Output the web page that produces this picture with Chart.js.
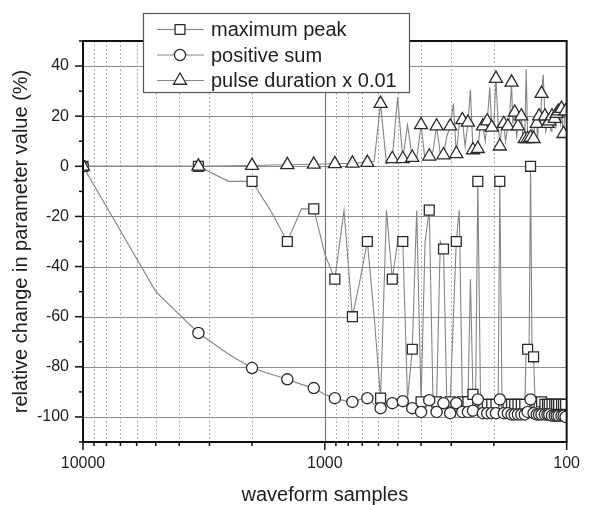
<!DOCTYPE html>
<html>
<head>
<meta charset="utf-8">
<script src="https://cdn.jsdelivr.net/npm/chart.js@4.4.1/dist/chart.umd.min.js"></script>
<style>
html,body{margin:0;padding:0;background:#fff;}
#wrap{width:592px;height:505px;}
</style>
</head>
<body>
<div id="wrap"><canvas id="c" width="592" height="505"></canvas></div>
<script>
// waveform samples (x categories)
const samples = [10000,5000,3333,2500,2000,1667,1429,1250,1111,1000,
 909,833,769,714,667,625,588,556,526,500,
 476,455,435,417,400,385,370,357,345,333,
 323,313,303,294,286,278,270,263,256,250,
 244,238,233,227,222,217,213,208,204,200,
 196,192,189,185,182,179,175,172,169,167,
 164,161,159,156,154,152,149,147,145,143,
 141,139,137,135,133,132,130,128,127,125,
 123,122,120,119,118,116,115,114,112,111,
 110,109,108,106,105,104,103,102,101,100];

const maximumPeak = [0,0,0,-6,-6,-18,-30,-17,-17,-35,
 -45,-17.5,-60,-45,-30,-60,-92.5,-17.5,-45,-30,
 -30,-93,-73,-17.5,-94,-30,-17.5,-93,-94,-30,
 -33,-94,-94,-60,-30,-17.5,-94,-94,-94,-45,
 -91,-94,-6,-94,-95,-95,-95,-94,-95,-95,
 -95,-95,-6,-95,-95,-95,-95,-95,-95,-95,
 -95,-95,-95,-95,-95,-95,-95,-73,-73,-73,
 0,-76,-76,-95,-95,-95,-95,-95,-94,-95,
 -95,-95,-95,-95,-95,-95,-95,-95,-95,-95,
 -95,-95,-95,-95,-95,-95,-95,-95,-95,-95];

const positiveSum = [0,-50,-66.5,-75,-80.5,-83,-85,-87,-88.5,-91,
 -92.5,-93.5,-94,-93,-92.5,-95,-96.5,-95,-94.5,-94,
 -93.7,-95,-96.5,-97.5,-98,-96,-93.3,-96,-98,-96,
 -94.5,-97,-98.5,-96,-94.5,-97,-98,-98.5,-98,-97,
 -97.5,-96,-93,-97,-98.5,-98.5,-98.5,-98.5,-98.5,-98.5,
 -98.5,-97,-93,-97,-98.5,-99,-98.5,-99,-99,-99,
 -99,-99,-99,-99,-99,-99,-99,-98,-98,-97,
 -93,-97,-98.5,-99,-99,-99,-99,-99,-99,-99,
 -99,-99,-99,-99,-99,-99.5,-99.5,-99.5,-99.5,-99.5,
 -99.5,-99.5,-99.5,-99.5,-99.5,-99.5,-99.5,-99.5,-100,-100];

const pulseDuration = [0,0,0,0.2,0.3,0.5,0.6,0.7,0.8,0.9,
 1,1.1,1.2,1.4,1.5,2,25,1,3,27.5,
 3,16.5,3.5,3,16.5,2.5,4,6,16,5,
 4.5,12,16,25,5,17,18.5,8,17.5,30.5,
 6.5,8,7,17,16,10,18,31.5,15.5,17,
 35,17,8,17,17,10,16,20,33.5,17,
 21.5,12,16,18,20,12,11,38.8,11,12,
 11.5,15,11,18,17,11,20,17,29,36.5,
 20,14,17,20,18,14,20,21,19,15,
 21,19,22,17,23,16,13,20,22,20];

const seriesNames = ['maximum peak','positive sum','pulse duration x 0.01'];
const xTickValues = [10000,1000,100];
const xMinorValues = [9000,8000,7000,6000,5000,4000,3000,2000,900,800,700,600,500,400,300,200];
const yTickValues = [40,20,0,-20,-40,-60,-80,-100];
const yMinorValues = [50,30,10,-10,-30,-50,-70,-90,-110];

const FONT = '"Liberation Sans", Arial, Helvetica, sans-serif';
const TXT = '#1e1e1e';
const LINE = '#858585';
const MARK = '#2a2a2a';

function pts(vals){ return samples.map((s,i)=>({x:s,y:vals[i]})); }
function radiusEveryOther(r){ return ctx => (ctx.dataIndex % 2 === 0 ? r : 0); }

const styles = [
  {pointStyle:'rect', radius:7},
  {pointStyle:'circle', radius:5.6},
  {pointStyle:'triangle', radius:7.5}
];

const frameAndDecor = {
  id:'frameAndDecor',
  beforeDatasetsDraw(chart){
    const {ctx, chartArea:a, scales:{x,y}} = chart;
    ctx.save();
    // horizontal grid
    ctx.strokeStyle = '#8c8c8c'; ctx.lineWidth = 1.2;
    yTickValues.forEach(v=>{
      const py = Math.round(y.getPixelForValue(v))+0.5;
      ctx.beginPath(); ctx.moveTo(a.left,py); ctx.lineTo(a.right,py); ctx.stroke();
    });
    // minor vertical dotted grid
    ctx.strokeStyle = '#b0b0b0'; ctx.lineWidth = 1; ctx.setLineDash([2,2]);
    xMinorValues.forEach(v=>{
      const px = Math.round(x.getPixelForValue(v))+0.5;
      ctx.beginPath(); ctx.moveTo(px,a.top); ctx.lineTo(px,a.bottom); ctx.stroke();
    });
    ctx.setLineDash([]);
    // major vertical grid (inner)
    ctx.strokeStyle = '#7a7a7a'; ctx.lineWidth = 1.2;
    [1000].forEach(v=>{
      const px = Math.round(x.getPixelForValue(v))+0.5;
      ctx.beginPath(); ctx.moveTo(px,a.top); ctx.lineTo(px,a.bottom); ctx.stroke();
    });
    ctx.restore();
  },
  afterDraw(chart){
    const {ctx, chartArea:a, scales:{x,y}} = chart;
    ctx.save();
    // frame
    ctx.strokeStyle = '#111'; ctx.lineWidth = 2;
    ctx.strokeRect(a.left, a.top, a.right-a.left, a.bottom-a.top);
    // x ticks
    ctx.lineWidth = 1.5;
    xTickValues.forEach(v=>{
      const px = x.getPixelForValue(v);
      ctx.beginPath(); ctx.moveTo(px,a.bottom); ctx.lineTo(px,a.bottom+8); ctx.stroke();
    });
    xMinorValues.forEach(v=>{
      const px = x.getPixelForValue(v);
      ctx.beginPath(); ctx.moveTo(px,a.bottom); ctx.lineTo(px,a.bottom+4); ctx.stroke();
    });
    // y ticks
    yTickValues.forEach(v=>{
      const py = y.getPixelForValue(v);
      ctx.beginPath(); ctx.moveTo(a.left,py); ctx.lineTo(a.left-8,py); ctx.stroke();
    });
    yMinorValues.forEach(v=>{
      const py = y.getPixelForValue(v);
      ctx.beginPath(); ctx.moveTo(a.left,py); ctx.lineTo(a.left-4,py); ctx.stroke();
    });
    // axis titles
    ctx.fillStyle = TXT;
    ctx.font = '20px ' + FONT;
    ctx.textAlign = 'center'; ctx.textBaseline = 'middle';
    ctx.fillText('waveform samples', (a.left+a.right)/2, 495);
    ctx.save();
    ctx.translate(21, (a.top+a.bottom)/2);
    ctx.rotate(-Math.PI/2);
    ctx.fillText('relative change in parameter value (%)', 0, 0);
    ctx.restore();
    // legend
    const lx = 143, ly = 13, lw = 266, lh = 79;
    ctx.fillStyle = '#fff';
    ctx.fillRect(lx, ly, lw, lh);
    ctx.strokeStyle = '#555'; ctx.lineWidth = 1.2;
    ctx.strokeRect(lx+0.5, ly+0.5, lw, lh);
    const rows = [29.5, 55, 80.5];
    seriesNames.forEach((name,i)=>{
      const cy = rows[i];
      ctx.strokeStyle = LINE; ctx.lineWidth = 1.2;
      ctx.beginPath(); ctx.moveTo(157,cy); ctx.lineTo(204,cy); ctx.stroke();
      const cx = 180;
      ctx.fillStyle = '#fff'; ctx.strokeStyle = MARK; ctx.lineWidth = 1.3;
      ctx.beginPath();
      const st = styles[i];
      if (st.pointStyle === 'rect') {
        const s = st.radius*Math.SQRT1_2;
        ctx.rect(cx-s, cy-s, 2*s, 2*s);
      } else if (st.pointStyle === 'circle') {
        ctx.arc(cx, cy, st.radius, 0, Math.PI*2);
      } else {
        const r = st.radius;
        for (let k=0;k<3;k++){
          const ang = k*2*Math.PI/3;
          const px = cx + Math.sin(ang)*r, py = cy - Math.cos(ang)*r;
          if (k===0) ctx.moveTo(px,py); else ctx.lineTo(px,py);
        }
        ctx.closePath();
      }
      ctx.fill(); ctx.stroke();
      ctx.fillStyle = TXT;
      ctx.font = '20px ' + FONT;
      ctx.textAlign = 'left'; ctx.textBaseline = 'middle';
      ctx.fillText(name, 211, cy+1);
    });
    ctx.restore();
  }
};

const valueSets = [maximumPeak, positiveSum, pulseDuration];
const datasets = valueSets.map((vals,i)=>({
  label: seriesNames[i],
  data: pts(vals),
  borderColor: LINE,
  borderWidth: 1.1,
  pointStyle: styles[i].pointStyle,
  pointRadius: radiusEveryOther(styles[i].radius),
  pointHoverRadius: 0,
  pointBackgroundColor: '#fff',
  pointBorderColor: MARK,
  pointBorderWidth: 1.3,
  tension: 0,
  fill: false,
  order: 3 - i
}));

new Chart(document.getElementById('c'), {
  type: 'line',
  data: { datasets },
  options: {
    responsive: false,
    devicePixelRatio: 1,
    animation: false,
    layout: { padding: { left: 0, right: 16, top: 41, bottom: 0 } },
    plugins: { legend: { display: false }, tooltip: { enabled: false } },
    scales: {
      x: {
        type: 'logarithmic', reverse: true, min: 100, max: 10000, position: 'bottom',
        afterBuildTicks: s => { s.ticks = xTickValues.map(v => ({ value: v })); },
        afterFit: s => { s.height = 63; },
        grid: { display: false, drawTicks: false },
        border: { display: false },
        ticks: { autoSkip: false, maxRotation: 0, padding: 12, color: TXT,
                 font: { size: 16, family: FONT }, callback: v => String(v) }
      },
      y: {
        type: 'linear', min: -110, max: 50, position: 'left',
        afterBuildTicks: s => { s.ticks = yTickValues.map(v => ({ value: v })); },
        afterFit: s => { s.width = 83; },
        grid: { display: false, drawTicks: false },
        border: { display: false },
        ticks: { padding: 14, color: TXT, font: { size: 16, family: FONT }, callback: v => String(v) }
      }
    }
  },
  plugins: [frameAndDecor]
});
</script>
</body>
</html>
